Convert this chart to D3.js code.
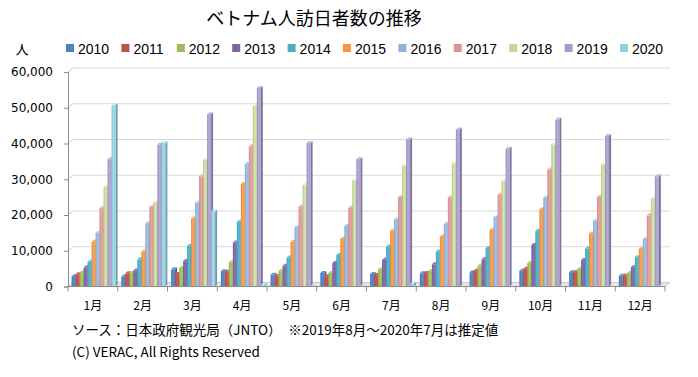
<!DOCTYPE html>
<html>
<head>
<meta charset="utf-8">
<script src="https://cdn.jsdelivr.net/npm/d3@7"></script>
<style>
  body { margin: 0; background: #fff; }
  svg { display: block; }
</style>
</head>
<body>
<div id="chart"></div>
<script>
// Data
const months = ["1月", "2月", "3月", "4月", "5月", "6月", "7月", "8月", "9月", "10月", "11月", "12月"];
const years = ["2010", "2011", "2012", "2013", "2014", "2015", "2016", "2017", "2018", "2019", "2020"];
const yearColors = ["#4f81bd", "#c0504d", "#9bbb59", "#8064a2", "#4bacc6", "#f79646",
                    "#95b3d7", "#d99694", "#c3d69b", "#a99bc9", "#93cddd"];
const yTicks = [0, 10000, 20000, 30000, 40000, 50000, 60000];

const v2010 = [2900, 2800, 4800, 4300, 3300, 3800, 3500, 3700, 4000, 4400, 4000, 3000];
const v2011 = [3400, 3700, 3500, 4100, 2900, 2900, 3200, 3800, 4400, 5000, 4000, 3000];
const v2012 = [3900, 3800, 5200, 6800, 4400, 3800, 4800, 4300, 5800, 6600, 4900, 3800];
const v2013 = [5300, 4500, 7100, 12300, 5800, 6600, 7500, 6200, 7600, 11600, 7400, 5400];
const v2014 = [6900, 7600, 11400, 18100, 8100, 8800, 11200, 9800, 10800, 15500, 10600, 8200];
const v2015 = [12500, 9700, 19000, 28700, 12500, 13300, 15600, 14000, 15800, 21600, 14800, 10500];
const v2016 = [15000, 17700, 23400, 34300, 16600, 17000, 18800, 17500, 19400, 24900, 18400, 13300];
const v2017 = [21900, 22300, 30800, 39200, 22300, 22000, 25000, 24900, 25600, 32700, 25100, 19900];
const v2018 = [27900, 23600, 35500, 50500, 28400, 29700, 33800, 34400, 29500, 39700, 34100, 24600];
const v2019 = [35600, 39700, 48200, 55500, 40100, 35600, 41100, 43900, 38500, 46700, 42100, 30800];
const v2020 = [50700, 40100, 21000, 400, 0, 100, 800, null, null, null, null, null];

const series = [v2010, v2011, v2012, v2013, v2014, v2015, v2016, v2017, v2018, v2019, v2020];

// Lay-out
const W = 698, H = 377;
const margin = { top: 72, right: 33, bottom: 91, left: 68 };
const depth = { dx: 5, dy: -4 };
const barDepth = { dx: 2, dy: -2 };

const svg = d3.select("#chart").append("svg")
    .attr("width", W).attr("height", H)
    .attr("viewBox", `0 0 ${W} ${H}`);

const defs = svg.append("defs");
yearColors.forEach((c, i) => {
    const g = defs.append("linearGradient")
        .attr("id", "grad" + i)
        .attr("x1", "0%").attr("x2", "100%").attr("y1", "0%").attr("y2", "0%");
    g.append("stop").attr("offset", "0%").attr("stop-color", d3.color(c).darker(0.3));
    g.append("stop").attr("offset", "45%").attr("stop-color", d3.color(c).brighter(0.25));
    g.append("stop").attr("offset", "100%").attr("stop-color", c);
});

const x = d3.scaleBand().domain(months).range([margin.left, W - margin.right]);
const xInner = d3.scaleBand().domain(years).range([3.6, 47.6]);
const y = d3.scaleLinear().domain([0, 60000]).range([H - margin.bottom + 0.5, margin.top]);

const x0 = margin.left, x1 = W - margin.right;
const y0 = y(0);

// Title
svg.append("text")
    .attr("x", 314).attr("y", 25)
    .attr("text-anchor", "middle")
    .style("font-family", "'Noto Sans CJK JP', sans-serif")
    .style("font-size", "18px")
    .text("ベトナム人訪日者数の推移");

// Unit label
svg.append("text")
    .attr("x", 22).attr("y", 54)
    .attr("text-anchor", "middle")
    .style("font-family", "'Noto Sans CJK JP', sans-serif")
    .style("font-size", "13px")
    .text("人");

// Legend
const legend = svg.append("g").attr("transform", "translate(66, 44)");
const li = legend.selectAll("g").data(years).join("g")
    .attr("transform", (d, i) => `translate(${i * 55.4}, 0)`);
li.append("rect").attr("width", 8).attr("height", 8).attr("y", 0)
    .attr("fill", (d, i) => yearColors[i]);
li.append("text").attr("x", 12).attr("y", 9.5)
    .style("font-family", "'Liberation Sans', Arial, sans-serif")
    .style("font-size", "14px")
    .text(d => d);

// Floor
svg.append("polygon")
    .attr("points", [[x0, y0], [x1, y0], [x1 + depth.dx, y0 + depth.dy], [x0 + depth.dx, y0 + depth.dy]].join(" "))
    .attr("fill", "#e6e6e6").attr("stroke", "#bfbfbf").attr("stroke-width", 0.8);

// Gridlines on back wall
svg.append("g").selectAll("polyline").data(yTicks.slice(1)).join("polyline")
    .attr("points", d => [[x0, y(d)], [x0 + depth.dx, y(d) + depth.dy], [x1 + depth.dx, y(d) + depth.dy]].join(" "))
    .attr("fill", "none")
    .attr("stroke", "#d9d9d9").attr("stroke-width", 1.2);

// Y axis
const gy = svg.append("g").attr("transform", `translate(${x0},0)`)
    .call(d3.axisLeft(y).tickValues(yTicks).tickSize(4).tickPadding(11).tickFormat(d3.format(",")));
gy.select(".domain").attr("stroke", "#8c8c8c");
gy.selectAll(".tick line").attr("stroke", "#8c8c8c");
gy.selectAll("text")
    .style("font-family", "'DejaVu Sans', sans-serif")
    .style("font-size", "12px")
    .attr("fill", "#000");

// Bars
const barData = [];
months.forEach((m, mi) => {
    years.forEach((yr, yi) => {
        const v = series[yi][mi];
        if (v !== null && v !== undefined) barData.push({ month: m, year: yr, yi, value: v });
    });
});

const bars = svg.append("g").selectAll("g.bar").data(barData).join("g").attr("class", "bar");
bars.each(function(d) {
    const g = d3.select(this);
    const bx = x(d.month) + xInner(d.year);
    const bw = xInner.bandwidth();
    const by = y(d.value);
    const c = d3.color(yearColors[d.yi]);
    const ddx = barDepth.dx, ddy = barDepth.dy;
    // side
    g.append("polygon")
        .attr("points", [[bx + bw, by], [bx + bw + ddx, by + ddy], [bx + bw + ddx, y0 + ddy], [bx + bw, y0]].join(" "))
        .attr("fill", c.darker(0.8));
    // top
    g.append("polygon")
        .attr("points", [[bx, by], [bx + ddx, by + ddy], [bx + bw + ddx, by + ddy], [bx + bw, by]].join(" "))
        .attr("fill", c.brighter(0.4));
    // front
    g.append("rect")
        .attr("x", bx).attr("y", by)
        .attr("width", bw).attr("height", Math.max(0, y0 - by))
        .attr("fill", `url(#grad${d.yi})`);
});

// X axis
const gx = svg.append("g").attr("transform", `translate(0,${y0})`);
gx.append("line").attr("x1", x0).attr("x2", x1).attr("stroke", "#8c8c8c");
gx.selectAll("line.tick").data(months.concat(["end"])).join("line")
    .attr("class", "tick")
    .attr("x1", (d, i) => x0 + i * x.bandwidth())
    .attr("x2", (d, i) => x0 + i * x.bandwidth())
    .attr("y1", 0).attr("y2", 5)
    .attr("stroke", "#8c8c8c");
gx.selectAll("text").data(months).join("text")
    .attr("x", d => x(d) + x.bandwidth() / 2)
    .attr("y", 23)
    .attr("text-anchor", "middle")
    .style("font-family", "'Noto Sans CJK JP', sans-serif")
    .style("font-size", "12px")
    .text(d => d);

// Source notes
svg.append("text")
    .attr("x", 72).attr("y", 335)
    .style("font-family", "'Noto Sans CJK JP', sans-serif")
    .style("font-size", "13.5px")
    .text("ソース：日本政府観光局（JNTO）　※2019年8月～2020年7月は推定値");
svg.append("text")
    .attr("x", 72).attr("y", 357)
    .style("font-family", "'Noto Sans CJK JP', sans-serif")
    .style("font-size", "13.5px")
    .text("(C) VERAC, All Rights Reserved");
</script>
</body>
</html>
